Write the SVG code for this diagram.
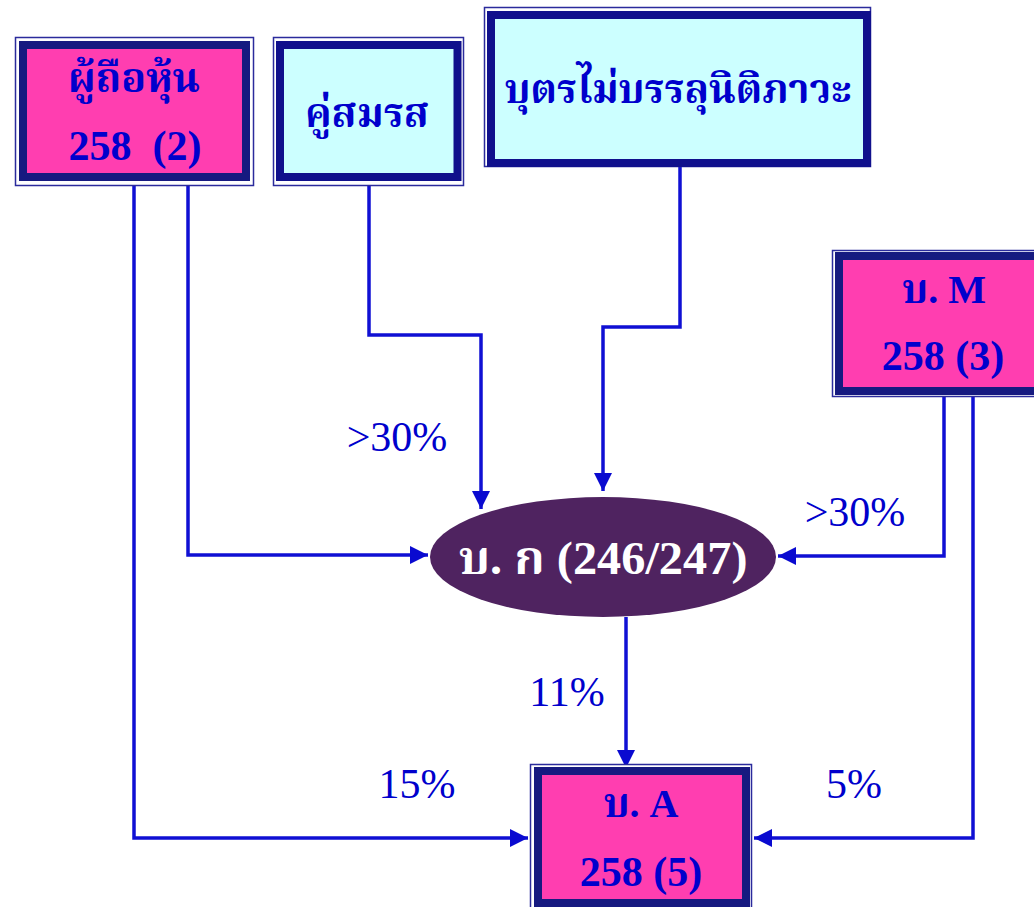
<svg xmlns="http://www.w3.org/2000/svg" width="1034" height="907" viewBox="0 0 1034 907">
<style>
.outer{fill:#fff;stroke:#2b2b9c;stroke-width:1.5}
.pink{fill:#ff3eb0;stroke:#161a80;stroke-width:8}
.cyan{fill:#ccffff;stroke:#10108c;stroke-width:8}
.bt{font-family:"Liberation Serif","Noto Serif Thai","Noto Sans Thai","DejaVu Sans",serif;font-weight:bold;fill:#0000cc;text-anchor:middle}
.lbl{font-family:"Liberation Serif","Times New Roman",serif;font-size:42px;fill:#0000cc;text-anchor:middle}
.ln{fill:none;stroke:#1010d4;stroke-width:3.5}
</style>
<defs>
<marker id="ah" viewBox="0 0 18 18" refX="18" refY="9" markerWidth="18" markerHeight="18" markerUnits="userSpaceOnUse" orient="auto">
<path d="M0,0 L18,9 L0,18 Z" fill="#0a0ad0"/>
</marker>
</defs>
<rect width="1034" height="907" fill="#fff"/>
<g id="connectors">
<path class="ln" d="M188,186 V555 H428" marker-end="url(#ah)"/>
<path class="ln" d="M134,186 V838 H528" marker-end="url(#ah)"/>
<path class="ln" d="M369,186 V335 H481 V509" marker-end="url(#ah)"/>
<path class="ln" d="M680,167 V327 H603 V491" marker-end="url(#ah)"/>
<path class="ln" d="M944,397 V556 H778" marker-end="url(#ah)"/>
<path class="ln" d="M973,397 V838 H754" marker-end="url(#ah)"/>
<path class="ln" d="M626,617 V768" marker-end="url(#ah)"/>
</g>
<g id="labels">
<text class="lbl" x="397" y="451">&gt;30%</text>
<text class="lbl" x="855" y="526">&gt;30%</text>
<text class="lbl" x="567" y="706">11%</text>
<text class="lbl" x="417" y="798">15%</text>
<text class="lbl" x="854" y="798">5%</text>
</g>
<g id="shareholder">
<rect class="outer" x="15.5" y="37.5" width="238" height="148"/>
<rect class="pink" x="23" y="45" width="223" height="132"/>
<text class="bt" x="134" y="92" font-size="40" textLength="132" lengthAdjust="spacingAndGlyphs">ผู้ถือหุ้น</text>
<text class="bt" x="135" y="160" font-size="42" xml:space="preserve">258  (2)</text>
</g>
<g id="spouse">
<rect class="outer" x="273.5" y="37.5" width="190" height="148"/>
<rect class="cyan" x="280" y="45" width="177.5" height="132"/>
<text class="bt" x="367" y="127" font-size="40" textLength="124" lengthAdjust="spacingAndGlyphs">คู่สมรส</text>
</g>
<g id="minor">
<rect class="outer" x="484.5" y="7.5" width="386" height="159"/>
<rect class="cyan" x="491" y="15" width="376" height="148"/>
<text class="bt" x="678" y="103" font-size="40" textLength="347" lengthAdjust="spacingAndGlyphs">บุตรไม่บรรลุนิติภาวะ</text>
</g>
<g id="companyM">
<rect class="outer" x="832.5" y="250.5" width="220" height="146"/>
<rect class="pink" x="839" y="256" width="210" height="135"/>
<text class="bt" x="944" y="303" font-size="40">บ. M</text>
<text class="bt" x="943" y="370" font-size="42">258 (3)</text>
</g>
<g id="companyK">
<ellipse cx="603" cy="557" rx="173" ry="60" fill="#4f2360"/>
<text class="bt" x="603" y="574" font-size="46" style="fill:#fff" textLength="289" lengthAdjust="spacingAndGlyphs">บ. ก (246/247)</text>
</g>
<g id="companyA">
<rect class="outer" x="530.5" y="764.5" width="221" height="150"/>
<rect class="pink" x="538" y="771" width="208" height="132"/>
<text class="bt" x="641" y="817" font-size="40">บ. A</text>
<text class="bt" x="641" y="886" font-size="42">258 (5)</text>
</g>
</svg>
